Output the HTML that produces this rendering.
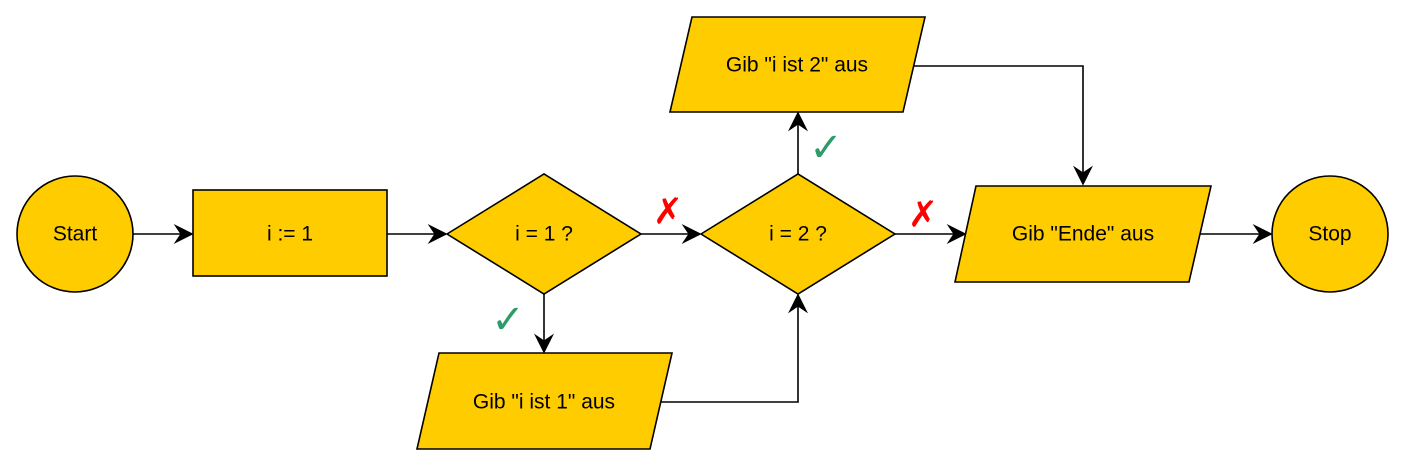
<!DOCTYPE html>
<html><head><meta charset="utf-8"><style>
html,body{margin:0;padding:0;background:#fff;}
svg{display:block;}
text{font-family:"Liberation Sans","DejaVu Sans",sans-serif;font-size:21px;fill:#000;text-anchor:middle;dominant-baseline:central;}
.s{fill:#FFCC00;stroke:#000;stroke-width:1.6;}
.l{fill:none;stroke:#000;stroke-width:1.6;}
</style></head><body>
<svg width="1404" height="466" viewBox="0 0 1404 466">
<defs><marker id="a" viewBox="0 0 12 12" refX="11" refY="6" markerWidth="22" markerHeight="20" markerUnits="userSpaceOnUse" orient="auto"><path d="M0,0 L12,6 L0,12 L4,6 Z" fill="#000"/></marker></defs>
<g>
<line class="l" x1="133" y1="234" x2="192" y2="234" marker-end="url(#a)"/>
<line class="l" x1="387" y1="234" x2="446" y2="234" marker-end="url(#a)"/>
<line class="l" x1="641" y1="234" x2="700" y2="234" marker-end="url(#a)"/>
<line class="l" x1="895" y1="234" x2="965" y2="234" marker-end="url(#a)"/>
<line class="l" x1="1199" y1="234" x2="1271" y2="234" marker-end="url(#a)"/>
<line class="l" x1="544" y1="294" x2="544" y2="352" marker-end="url(#a)"/>
<polyline class="l" points="660,402 798,402 798,295" marker-end="url(#a)"/>
<line class="l" x1="798" y1="174" x2="798" y2="113" marker-end="url(#a)"/>
<polyline class="l" points="914,66 1083,66 1083,184" marker-end="url(#a)"/>
</g>
<g><circle class="s" cx="75" cy="234" r="58"/><text x="75" y="234">Start</text></g>
<g><rect class="s" x="193" y="190" width="194" height="86"/><text x="290" y="234">i := 1</text></g>
<g><polygon class="s" points="447,234 544,174 641,234 544,294"/><text x="544" y="234">i = 1 ?</text></g>
<g><polygon class="s" points="701,234 798,174 895,234 798,294"/><text x="798" y="234">i = 2 ?</text></g>
<g><polygon class="s" points="692,17 925,17 903,112 670,112"/><text x="797" y="65">Gib "i ist 2" aus</text></g>
<g><polygon class="s" points="976,186 1211,186 1189,282 955,282"/><text x="1083" y="234">Gib "Ende" aus</text></g>
<g><polygon class="s" points="439,353 672,353 650,449 417,449"/><text x="544" y="402">Gib "i ist 1" aus</text></g>
<g><circle class="s" cx="1330" cy="234" r="58"/><text x="1330" y="234">Stop</text></g>
<text x="668" y="211" style="fill:#f00;font-size:36px;font-weight:bold">✗</text>
<text x="923" y="214" style="fill:#f00;font-size:36px;font-weight:bold">✗</text>
<text x="508" y="320" style="fill:#2e9b6a;font-size:40px;font-weight:bold">✓</text>
<text x="826" y="148" style="fill:#2e9b6a;font-size:40px;font-weight:bold">✓</text>
</svg>
</body></html>
